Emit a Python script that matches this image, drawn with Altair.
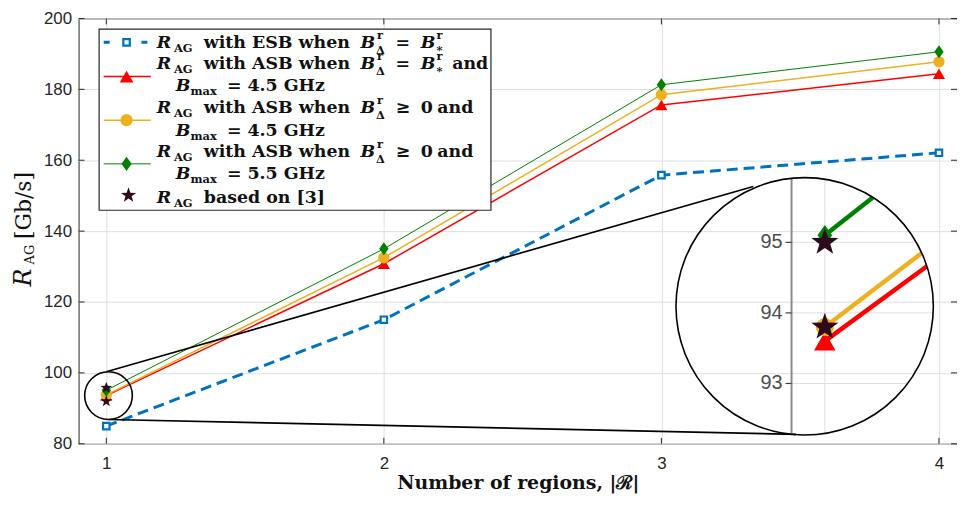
import math
import altair as alt
import pandas as pd

# ---------------- data ----------------
regions = [1, 2, 3, 4]
esb_eq = [85.0, 115.0, 155.8, 162.1]          # R_AG with ESB when B^r_Δ = B^r_*
asb_eq_45 = [93.6, 130.8, 175.6, 184.4]       # ASB, B^r_Δ = B^r_*, Bmax 4.5
asb_ge_45 = [93.8, 132.5, 178.5, 187.8]       # ASB, B^r_Δ >= 0, Bmax 4.5
asb_ge_55 = [95.1, 135.0, 181.3, 190.6]       # ASB, B^r_Δ >= 0, Bmax 5.5
ref3_x = [1, 1]
ref3_main = [95.8, 92.0]                      # stars as drawn in the main axes
ref3_inset = [95.0, 93.8]                     # stars as drawn in the magnified inset
y_ticks = [80, 100, 120, 140, 160, 180, 200]
x_ticks = [1, 2, 3, 4]
inset_ticks = [93, 94, 95]

BLUE, RED, ORANGE, GREEN, STAR = "#0072BD", "#FF0000", "#EDB120", "#008000", "#2E0A1E"
INK = "#262626"
GRID = "#dfdfdf"

# ---------------- layout (page pixels) ----------------
OX, OY = 79, 17            # plot-area origin on the page
W, H = 884, 428
XD, YD = [0.9, 4.065], [80, 200]
pxx = W / (XD[1] - XD[0])
pxy = H / (YD[1] - YD[0])

# magnified inset scale: 3600 px per region, 71 px per Gb/s, x=1 at page x 830, 95 at page y 242.3
IKX, IKY = 3600.0, 71.0
IXD = [1 - (830 - OX) / IKX, 1 - (830 - OX) / IKX + W / IKX]
IYT = 95 + (242.3 - OY) / IKY
IYD = [IYT - H / IKY, IYT]


def mx(a):   # page px -> main x value
    return XD[0] + (a - OX) / pxx


def my(a):   # page px -> main y value
    return YD[1] - (a - OY) / pxy


def ix(a):   # page px -> inset x value
    return IXD[0] + (a - OX) / IKX


def iy(a):   # page px -> inset y value
    return IYD[1] - (a - OY) / IKY


def ipx(x):
    return OX + (x - IXD[0]) * IKX


def ipy(y):
    return OY + (IYD[1] - y) * IKY


# star & narrow diamond symbols
pts = []
for k in range(10):
    a = math.radians(-90 + 36 * k)
    r = 1.0 if k % 2 == 0 else 0.40
    pts.append(f"{r*math.cos(a):.3f},{r*math.sin(a):.3f}")
STAR_PATH = "M" + "L".join(pts) + "Z"
DIAMOND_PATH = "M0,-1L0.72,0L0,1L-0.72,0Z"

XS = alt.Scale(domain=XD, nice=False, zero=False)
YS = alt.Scale(domain=YD, nice=False, zero=False)
XA = alt.Axis(values=x_ticks, format="d", grid=True, gridColor=GRID, domain=False, ticks=False,
              labelFont="Liberation Sans", labelFontSize=17, labelColor=INK, labelPadding=12,
              title="Number of regions, |ℛ|", titleFont="DejaVu Serif", titleFontSize=19,
              titleFontWeight="bold", titleColor="#111111", titlePadding=2)
YA = alt.Axis(values=y_ticks, grid=True, gridColor=GRID, domain=False, ticks=False,
              labelFont="Liberation Sans", labelFontSize=17, labelColor=INK, labelPadding=7,
              title="")


def enc_main(ch, x="x", y="y", extra=None):
    kw = dict(x=alt.X(f"{x}:Q", scale=XS, axis=XA), y=alt.Y(f"{y}:Q", scale=YS, axis=YA))
    if extra:
        kw.update(extra)
    return ch.encode(**kw)


def series_df(vals):
    return pd.DataFrame({"x": regions, "y": vals})


main_layers = []
d = series_df(esb_eq)
main_layers.append(enc_main(alt.Chart(d).mark_line(color=BLUE, strokeWidth=3, strokeDash=[11, 6])))
main_layers.append(enc_main(alt.Chart(d).mark_point(shape="square", filled=True, fill="white",
                                                     stroke=BLUE, strokeWidth=2.2, size=42, opacity=1)))
d = series_df(asb_eq_45)
main_layers.append(enc_main(alt.Chart(d).mark_line(color=RED, strokeWidth=1.5)))
main_layers.append(enc_main(alt.Chart(d).mark_point(shape="triangle-up", filled=True, color=RED,
                                                     size=150, opacity=1)))
d = series_df(asb_ge_45)
main_layers.append(enc_main(alt.Chart(d).mark_line(color=ORANGE, strokeWidth=1.5)))
main_layers.append(enc_main(alt.Chart(d).mark_point(shape="circle", filled=True, color=ORANGE,
                                                     size=130, opacity=1)))
d = series_df(asb_ge_55)
main_layers.append(enc_main(alt.Chart(d).mark_line(color=GREEN, strokeWidth=1)))
main_layers.append(enc_main(alt.Chart(d).mark_point(shape=DIAMOND_PATH, filled=True, color=GREEN,
                                                     size=170, opacity=1)))
d = pd.DataFrame({"x": ref3_x, "y": ref3_main})
main_layers.append(enc_main(alt.Chart(d).mark_point(shape=STAR_PATH, filled=True, color=STAR,
                                                     size=150, opacity=1)))

# magnifier: small circle round x=1, big circle on the right, two connector lines
small_c = (1.0079, 93.6)
small_r = 24
big_c = (809.7, 306.7)      # page px
big_r = 129.5
d = pd.DataFrame({"x": [small_c[0]], "y": [small_c[1]]})
main_layers.append(enc_main(alt.Chart(d).mark_point(shape="circle", filled=False, stroke="black",
                                                     strokeWidth=1.6, size=(2 * small_r) ** 2, opacity=1)))
d = pd.DataFrame({"x": [small_c[0] - 0.008, small_c[0]],
                  "y": [small_c[1] + small_r / pxy, small_c[1] - small_r / pxy],
                  "x2": [mx(758), mx(801)], "y2": [my(186), my(435.5)]})
main_layers.append(enc_main(alt.Chart(d).mark_rule(color="black", strokeWidth=1.6),
                            extra=dict(x2="x2:Q", y2="y2:Q")))
# inward ticks on all four sides
tl = 6
rows = []
for v in y_ticks:
    rows.append(dict(x=XD[0], x2=XD[0] + tl / pxx, y=v, y2=v))
    rows.append(dict(x=XD[1] - tl / pxx, x2=XD[1], y=v, y2=v))
for v in x_ticks:
    rows.append(dict(x=v, x2=v, y=YD[0], y2=YD[0] + tl / pxy))
    rows.append(dict(x=v, x2=v, y=YD[1] - tl / pxy, y2=YD[1]))
main_layers.append(enc_main(alt.Chart(pd.DataFrame(rows)).mark_rule(color=INK, strokeWidth=1),
                            extra=dict(x2="x2:Q", y2="y2:Q")))
main = alt.layer(*main_layers)

# ---------------- magnified inset ----------------
IXS = alt.Scale(domain=IXD, nice=False, zero=False)
IYS = alt.Scale(domain=IYD, nice=False, zero=False)


def enc_in(ch, extra=None):
    kw = dict(x=alt.X("x:Q", scale=IXS, axis=None), y=alt.Y("y:Q", scale=IYS, axis=None))
    if extra:
        kw.update(extra)
    return ch.encode(**kw)


cxp, cyp, R = big_c[0], big_c[1], big_r
axis_px = 796.5


def chord(px_x):
    h = math.sqrt(R * R - (px_x - cxp) ** 2)
    return iy(cyp + h), iy(cyp - h)


inset_layers = []
rows = []
lo, hi = chord(ipx(1))
rows.append(dict(x=1, x2=1, y=lo, y2=hi))
for v in inset_ticks:
    dy = ipy(v) - cyp
    rows.append(dict(x=ix(axis_px), x2=ix(cxp + math.sqrt(R * R - dy * dy)), y=v, y2=v))
inset_layers.append(enc_in(alt.Chart(pd.DataFrame(rows)).mark_rule(color=GRID, strokeWidth=1),
                           extra=dict(x2="x2:Q", y2="y2:Q")))
lo, hi = chord(axis_px)
inset_layers.append(enc_in(alt.Chart(pd.DataFrame([dict(x=ix(axis_px), x2=ix(axis_px), y=lo, y2=hi)]))
                           .mark_rule(color="#8c8c8c", strokeWidth=2), extra=dict(x2="x2:Q", y2="y2:Q")))
rows = [dict(x=ix(axis_px - 6), x2=ix(axis_px), y=v, y2=v) for v in inset_ticks]
inset_layers.append(enc_in(alt.Chart(pd.DataFrame(rows)).mark_rule(color="#404040", strokeWidth=1.2),
                           extra=dict(x2="x2:Q", y2="y2:Q")))
d = pd.DataFrame({"x": [ix(axis_px - 9)] * 3, "y": inset_ticks, "t": [str(v) for v in inset_ticks]})
inset_layers.append(enc_in(alt.Chart(d).mark_text(align="right", baseline="middle", font="Liberation Sans",
                                                  fontSize=20, color="#4d4d4d"), extra=dict(text="t:N")))
rows = []
for vals, col in [(asb_ge_55, GREEN), (asb_ge_45, ORANGE), (asb_eq_45, RED)]:
    p0 = (ipx(1), ipy(vals[0]))
    p1 = (ipx(2), ipy(vals[1]))
    dx, dy = p1[0] - p0[0], p1[1] - p0[1]
    fx, fy = p0[0] - cxp, p0[1] - cyp
    a = dx * dx + dy * dy
    b = fx * dx + fy * dy
    c = fx * fx + fy * fy - R * R
    t = (-b + math.sqrt(b * b - a * c)) / a
    rows.append(dict(x=1, y=vals[0], x2=1 + t, y2=vals[0] + t * (vals[1] - vals[0]), c=col))
inset_layers.append(enc_in(alt.Chart(pd.DataFrame(rows)).mark_rule(strokeWidth=4.5),
                           extra=dict(x2="x2:Q", y2="y2:Q", color=alt.Color("c:N", scale=None))))
inset_layers.append(enc_in(alt.Chart(pd.DataFrame({"x": [1], "y": [asb_eq_45[0]]}))
                           .mark_point(shape="triangle-up", filled=True, color=RED, size=470, opacity=1)))
inset_layers.append(enc_in(alt.Chart(pd.DataFrame({"x": [1], "y": [asb_ge_45[0]]}))
                           .mark_point(shape="circle", filled=True, color=ORANGE, size=330, opacity=1)))
inset_layers.append(enc_in(alt.Chart(pd.DataFrame({"x": [1], "y": [asb_ge_55[0]]}))
                           .mark_point(shape=DIAMOND_PATH, filled=True, color=GREEN, size=420, opacity=1)))
inset_layers.append(enc_in(alt.Chart(pd.DataFrame({"x": ref3_x, "y": ref3_inset}))
                           .mark_point(shape=STAR_PATH, filled=True, color=STAR, size=820, opacity=1)))
inset_layers.append(enc_in(alt.Chart(pd.DataFrame({"x": [ix(cxp)], "y": [iy(cyp)]}))
                           .mark_point(shape="circle", filled=False, stroke="black", strokeWidth=1.6,
                                       size=(2 * R) ** 2, opacity=1)))
inset = alt.layer(*inset_layers)

# ---------------- overlay: legend + y title (page pixel coordinates) ----------------
PXS = alt.Scale(domain=[OX, OX + W], nice=False, zero=False)
PYS = alt.Scale(domain=[OY, OY + H], nice=False, zero=False, reverse=True)


def enc_px(ch, extra=None):
    kw = dict(x=alt.X("x:Q", scale=PXS, axis=None), y=alt.Y("y:Q", scale=PYS, axis=None))
    if extra:
        kw.update(extra)
    return ch.encode(**kw)


ov = []
# y-axis title  R_AG [Gb/s]
ov.append(enc_px(alt.Chart(pd.DataFrame({"x": [31], "y": [286.7], "t": ["R"]}))
                 .mark_text(angle=270, align="left", baseline="alphabetic", font="DejaVu Serif",
                            fontStyle="italic", fontSize=24, color="#111111"), extra=dict(text="t:N")))
ov.append(enc_px(alt.Chart(pd.DataFrame({"x": [34.5], "y": [264.5], "t": ["AG"]}))
                 .mark_text(angle=270, align="left", baseline="alphabetic", font="DejaVu Serif",
                            fontSize=13, color="#111111"), extra=dict(text="t:N")))
ov.append(enc_px(alt.Chart(pd.DataFrame({"x": [31], "y": [239], "t": ["[Gb/s]"]}))
                 .mark_text(angle=270, align="left", baseline="alphabetic", font="DejaVu Serif",
                            fontSize=22, color="#111111"), extra=dict(text="t:N")))

# legend box
ov.append(enc_px(alt.Chart(pd.DataFrame([dict(x=99.7, x2=494, y=27.7, y2=210)]))
                 .mark_rect(fill="white", stroke=INK, strokeWidth=1.2),
                 extra=dict(x2="x2:Q", y2="y2:Q")))
LX0, LX1, LXM = 104.3, 151.7, 127.3
ov.append(enc_px(alt.Chart(pd.DataFrame([dict(x=LX0, x2=LX1, y=41, y2=41)]))
                 .mark_rule(color=BLUE, strokeWidth=3, strokeDash=[6, 32]),
                 extra=dict(x2="x2:Q", y2="y2:Q")))
rows = [dict(x=LX0, x2=LX1, y=75.5, y2=75.5, c=RED, w=1.5),
        dict(x=LX0, x2=LX1, y=119.3, y2=119.3, c=ORANGE, w=1.5),
        dict(x=LX0, x2=LX1, y=163.3, y2=163.3, c=GREEN, w=1)]
ov.append(enc_px(alt.Chart(pd.DataFrame(rows)).mark_rule(),
                 extra=dict(x2="x2:Q", y2="y2:Q", color=alt.Color("c:N", scale=None),
                            strokeWidth=alt.StrokeWidth("w:Q", scale=None))))
rows = [dict(x=LXM, y=41, s="square", f="white", k=BLUE, z=42, sw=2.2),
        dict(x=LXM, y=75.5, s="triangle-up", f=RED, k=RED, z=190, sw=0),
        dict(x=LXM, y=119.3, s="circle", f=ORANGE, k=ORANGE, z=150, sw=0),
        dict(x=LXM, y=163.3, s=DIAMOND_PATH, f=GREEN, k=GREEN, z=200, sw=0),
        dict(x=LXM + 2, y=195, s=STAR_PATH, f=STAR, k=STAR, z=260, sw=0)]
ov.append(enc_px(alt.Chart(pd.DataFrame(rows)).mark_point(filled=True, opacity=1),
                 extra=dict(shape=alt.Shape("s:N", scale=None), fill=alt.Fill("f:N", scale=None),
                            stroke=alt.Stroke("k:N", scale=None), size=alt.Size("z:Q", scale=None),
                            strokeWidth=alt.StrokeWidth("sw:Q", scale=None))))

# legend text pieces (baselines in page px)
legend_rows = [
    ("main", 46.7, "with ESB when", "eq", ""),
    ("main", 67.7, "with ASB when", "eq", "and"),
    ("cont", 90.0, "4.5 GHz", None, None),
    ("main", 112.3, "with ASB when", "ge", "and"),
    ("cont", 135.0, "4.5 GHz", None, None),
    ("main", 156.0, "with ASB when", "ge", "and"),
    ("cont", 179.0, "5.5 GHz", None, None),
    ("last", 202.3, "based on [3]", None, None),
]
ital, upr = [], []
BS, SS = 17.5, 11.5
for kind, yb, body, rel, tail in legend_rows:
    if kind in ("main", "last"):
        ital.append(dict(x=157.7, y=yb, t="R", z=BS))
        upr.append(dict(x=175, y=yb + 4, t="AG", z=SS))
        upr.append(dict(x=205, y=yb, t=body, z=BS))
    if kind == "main":
        ital.append(dict(x=362.7, y=yb, t="B", z=BS))
        upr.append(dict(x=379.3, y=yb - 9, t="r", z=SS))
        upr.append(dict(x=378.3, y=yb + 6, t="Δ", z=SS))
        if rel == "eq":
            upr.append(dict(x=398, y=yb, t="=", z=BS))
            ital.append(dict(x=423.3, y=yb, t="B", z=BS))
            upr.append(dict(x=439.3, y=yb - 9, t="r", z=SS))
            upr.append(dict(x=439.3, y=yb + 6, t="*", z=SS))
            if tail:
                upr.append(dict(x=455, y=yb, t=tail, z=BS))
        else:
            upr.append(dict(x=398.3, y=yb, t="≥", z=BS))
            upr.append(dict(x=423.3, y=yb, t="0", z=BS))
            upr.append(dict(x=440, y=yb, t=tail, z=BS))
    if kind == "cont":
        ital.append(dict(x=176.7, y=yb, t="B", z=BS))
        upr.append(dict(x=191.7, y=yb + 4, t="max", z=SS))
        upr.append(dict(x=228.3, y=yb, t="=", z=BS))
        upr.append(dict(x=249, y=yb, t=body, z=BS))

ov.append(enc_px(alt.Chart(pd.DataFrame(ital)).mark_text(align="left", baseline="alphabetic",
                                                          font="DejaVu Serif", fontStyle="italic",
                                                          fontWeight="bold", color="#111111"),
                 extra=dict(text="t:N", size=alt.Size("z:Q", scale=None))))
ov.append(enc_px(alt.Chart(pd.DataFrame(upr)).mark_text(align="left", baseline="alphabetic",
                                                         font="DejaVu Serif", fontWeight="bold",
                                                         color="#111111"),
                 extra=dict(text="t:N", size=alt.Size("z:Q", scale=None))))
overlay = alt.layer(*ov)

chart = (
    alt.layer(main, inset, overlay)
    .resolve_scale(x="independent", y="independent")
    .properties(width=W, height=H, autosize=alt.AutoSizeParams(type="none"),
                padding={"left": OX - 8, "top": OY - 8, "right": 0, "bottom": 50}, background="white")
    .configure_view(stroke=INK, strokeWidth=1)
)

chart.save("out.html", embed_options={"renderer": "svg", "actions": False})
